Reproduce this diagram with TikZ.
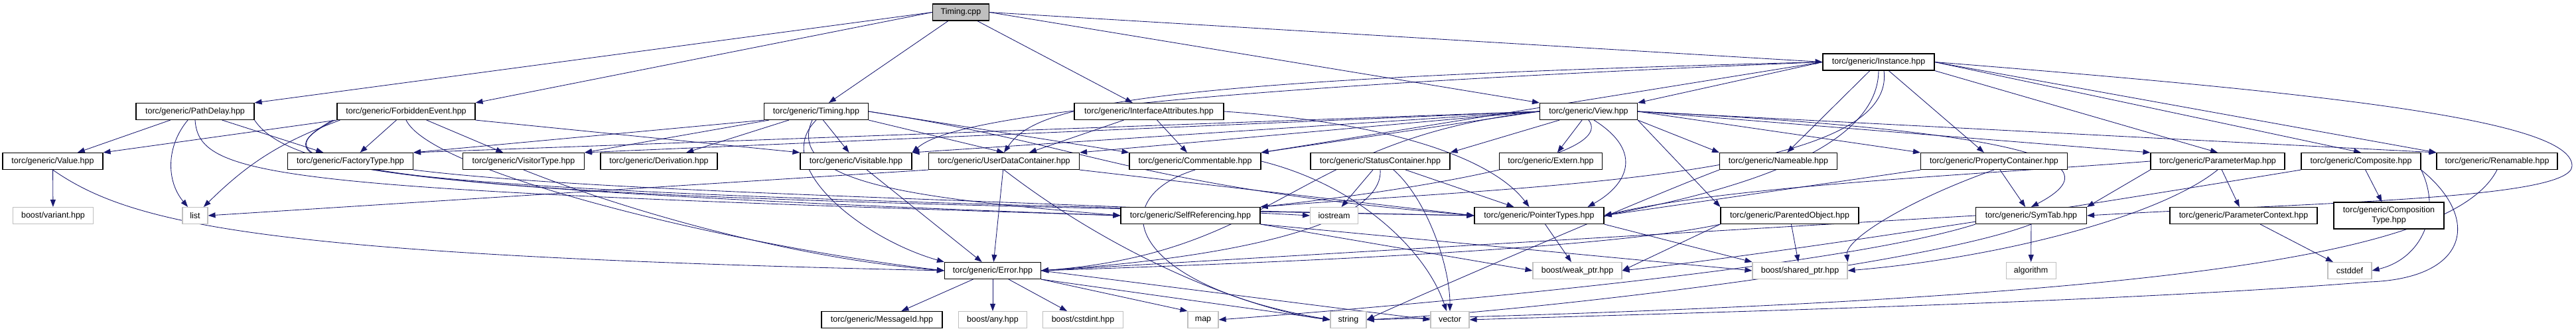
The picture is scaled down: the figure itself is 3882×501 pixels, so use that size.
\documentclass[tikz,border=0pt]{standalone}
\usepackage{fontspec}
\setmainfont{Liberation Sans}
\usetikzlibrary{arrows.meta,backgrounds}
\definecolor{edgec}{HTML}{191970}
\definecolor{sysc}{HTML}{BFBFBF}
\begin{document}
\begin{tikzpicture}[x=1pt,y=-1pt,
  every node/.style={font=\fontsize{12.5}{14}\selectfont},
  hdr/.style={draw=black,line width=1.1pt,fill=white,minimum height=25pt,inner xsep=3pt,inner ysep=0pt},
  sys/.style={draw=sysc,line width=1.1pt,fill=white,minimum height=25pt,inner xsep=3pt,inner ysep=0pt},
  e/.style={draw=edgec,line width=0.85pt,-{Triangle[length=11pt,width=8pt]}}]
\useasboundingbox (0,0) rectangle (3882,501);
% rank 0
\node[hdr,fill=sysc,minimum width=85pt] (tcpp) at (1448,18.5) {Timing.cpp};
\node[hdr,minimum width=168pt] (inst) at (2831,93.5) {torc/generic/Instance.hpp};
% rank 1
\node[hdr,minimum width=178pt] (pd) at (294,168) {torc/generic/PathDelay.hpp};
\node[hdr,minimum width=208pt] (fe) at (612,168) {torc/generic/ForbiddenEvent.hpp};
\node[hdr,minimum width=157pt] (th) at (1230,168) {torc/generic/Timing.hpp};
\node[hdr,minimum width=225pt] (ia) at (1731.5,168) {torc/generic/InterfaceAttributes.hpp};
\node[hdr,minimum width=147pt] (view) at (2394,168) {torc/generic/View.hpp};
% rank 2
\node[hdr,minimum width=151pt] (val) at (79.5,243) {torc/generic/Value.hpp};
\node[hdr,minimum width=189pt] (ft) at (528,243) {torc/generic/FactoryType.hpp};
\node[hdr,minimum width=183pt] (vt) at (789,243) {torc/generic/VisitorType.hpp};
\node[hdr,minimum width=176pt] (der) at (993,243) {torc/generic/Derivation.hpp};
\node[hdr,minimum width=168pt] (vis) at (1290,243) {torc/generic/Visitable.hpp};
\node[hdr,minimum width=227pt] (udc) at (1513,243) {torc/generic/UserDataContainer.hpp};
\node[hdr,minimum width=198pt] (com) at (1801,243) {torc/generic/Commentable.hpp};
\node[hdr,minimum width=210pt] (sc) at (2080,243) {torc/generic/StatusContainer.hpp};
\node[hdr,minimum width=155pt] (ext) at (2337,243) {torc/generic/Extern.hpp};
\node[hdr,minimum width=177pt] (nm) at (2680,243) {torc/generic/Nameable.hpp};
\node[hdr,minimum width=221pt] (pc) at (3005,243) {torc/generic/PropertyContainer.hpp};
\node[hdr,minimum width=202pt] (pm) at (3342,243) {torc/generic/ParameterMap.hpp};
\node[hdr,minimum width=180pt] (cmp) at (3558,243) {torc/generic/Composite.hpp};
\node[hdr,minimum width=182pt] (ren) at (3763,243) {torc/generic/Renamable.hpp};
% rank 3
\node[sys,minimum width=121pt] (var) at (80,325) {boost/variant.hpp};
\node[sys,minimum width=38pt] (list) at (294,325) {list};
\node[hdr,minimum width=210pt] (sr) at (1794,325) {torc/generic/SelfReferencing.hpp};
\node[sys,minimum width=72pt] (ios) at (2010.5,325) {iostream};
\node[hdr,minimum width=195pt] (ptr) at (2319.5,325) {torc/generic/PointerTypes.hpp};
\node[hdr,minimum width=208pt] (po) at (2697,325) {torc/generic/ParentedObject.hpp};
\node[hdr,minimum width=167pt] (st) at (3061,325) {torc/generic/SymTab.hpp};
\node[hdr,minimum width=222pt] (pctx) at (3381,325) {torc/generic/ParameterContext.hpp};
\node[hdr,minimum width=166pt,minimum height=40pt,align=center,font=\fontsize{12.5}{15}\selectfont] (ctype) at (3600,325) {torc/generic/Composition\\Type.hpp};
% rank 4
\node[hdr,minimum width=145pt] (err) at (1496,408) {torc/generic/Error.hpp};
\node[sys,minimum width=134pt] (weak) at (2377,408) {boost/weak\_ptr.hpp};
\node[sys,minimum width=143pt] (shared) at (2712.5,408) {boost/shared\_ptr.hpp};
\node[sys,minimum width=75pt] (alg) at (3060.6,408) {algorithm};
\node[sys,minimum width=66pt] (cstddef) at (3541,408) {cstddef};
% rank 5
\node[hdr,minimum width=182pt] (msg) at (1329,482) {torc/generic/MessageId.hpp};
\node[sys,minimum width=103pt] (any) at (1496,482) {boost/any.hpp};
\node[sys,minimum width=121pt] (cstdint) at (1632,482) {boost/cstdint.hpp};
\node[sys,minimum width=46pt] (map) at (1813,482) {map};
\node[sys,minimum width=54pt] (string) at (2032,482) {string};
\node[sys,minimum width=58pt] (vector) at (2185,482) {vector};

\begin{pgfonlayer}{background}
% Timing.cpp
\draw[e] (tcpp.west) -- (pd.north east);
\draw[e] (tcpp.west) -- (fe.north east);
\draw[e] (tcpp) -- (th);
\draw[e] (tcpp) -- (ia);
\draw[e] (tcpp.east) -- (view.north west);
\draw[e] (tcpp.east) -- (inst.west);
% PathDelay
\draw[e] (pd) -- (val);
\draw[e] (pd) -- (ft);
\draw[e] (pd) to[bend right=40] (list);
\draw[e] (pd.south) .. controls (300,270) and (420,285) .. (sr.west);
\draw[e] (pd.south east) .. controls (450,280) and (800,300) .. (ptr.west);
% ForbiddenEvent
\draw[e] (fe.south west) -- (val.north east);
\draw[e] ([xshift=5pt]fe.south west) to[bend right=12] (list);
\draw[e] (fe) -- (ft);
\draw[e] (fe) -- (vt);
\draw[e] (fe.south east) -- (vis.north west);
\draw[e] ([xshift=-3pt]fe.south west) .. controls (390,240) and (420,280) .. (sr.west);
\draw[e] ([xshift=-6pt]fe.south west) .. controls (380,250) and (420,290) .. (ptr.west);
\draw[e] (fe.south) .. controls (650,260) and (1100,370) .. (err.west);
\draw[e] (ft.south east) .. controls (900,290) and (1500,300) .. (ios.west);
% Timing.hpp
\draw[e] (th.south west) -- (ft.north east);
\draw[e] ([xshift=8pt]th.south west) -- (vt.north east);
\draw[e] (th) -- (der);
\draw[e] (th) -- (vis);
\draw[e] (th.south east) -- (udc.north);
\draw[e] (th.east) -- (com.north west);
\draw[e] (th.south) .. controls (1160,250) and (1300,360) .. (err.north west);
\draw[e] ([xshift=-6pt]th.south) .. controls (1180,280) and (1400,300) .. (sr.west);
\draw[e] (th.east) .. controls (1650,220) and (1700,280) .. (ptr.west);
% InterfaceAttributes
\draw[e] (ia) -- (udc);
\draw[e] (ia) -- (com);
\draw[e] (ia.east) .. controls (2100,185) and (2250,240) .. ([xshift=-15pt]ptr.north);
% View
\draw[e] (view.west) -- (ft.north east);
\draw[e] (view.west) -- (vt.north east);
\draw[e] (view.west) -- (vis.north east);
\draw[e] (view.west) -- (udc.north east);
\draw[e] (view.west) -- (com.north east);
\draw[e] (view) -- (sc.north east);
\draw[e] (view) -- (ext);
\draw[e] (view.south east) -- (nm.north west);
\draw[e] (view.south east) -- (po.north west);
\draw[e] (view.east) -- (pc.north west);
\draw[e] (view.east) -- (pm.north west);
\draw[e] (view.east) -- (ren.north west);
\draw[e] (view.south) .. controls (2440,240) and (2100,290) .. (sr.north east);
\draw[e] ([xshift=8pt]view.south) .. controls (2480,230) and (2450,280) .. ([xshift=-25pt]ptr.north east);
\draw[e] (view.west) .. controls (1950,210) and (1930,380) .. (err.east);
\draw[e] (view.east) .. controls (3100,200) and (3180,250) .. (st.north);
% Instance
\draw[e] (inst.west) -- (view.north east);
\draw[e] (inst) -- (nm);
\draw[e] (inst) -- (pc);
\draw[e] (inst.south east) -- (pm.north);
\draw[e] (inst.east) -- (cmp.north);
\draw[e] (inst.east) -- (ren.north west);
\draw[e] (inst.west) -- (com.north east);
\draw[e] (inst.west) .. controls (1700,120) and (1560,160) .. (udc.north);
\draw[e] (inst.west) .. controls (1600,140) and (1420,190) .. (vis.north east);
\draw[e] (inst.south) .. controls (2830,230) and (2600,290) .. (ptr.east);
\draw[e] ([xshift=8pt]inst.south) .. controls (2860,270) and (2300,280) .. (sr.north east);
\draw[e] (inst.east) .. controls (3500,140) and (3876,180) .. (3876,250) .. controls (3876,300) and (3500,305) .. (st.east);
% StatusContainer
\draw[e] (sc) -- (ios);
\draw[e] (sc) -- (ptr);
\draw[e] (sc.south) .. controls (2085,330) and (1900,385) .. (err.east);
\draw[e] ([xshift=20pt]sc.south) .. controls (2150,300) and (2185,400) .. (vector.north);
% Visitable, UserDataContainer, Commentable
\draw[e] (vis) -- (err);
\draw[e] (udc) -- (err);
\draw[e] (udc.south west) -- (list.east);
\draw[e] (udc.south) .. controls (1700,400) and (1900,470) .. (string.west);
\draw[e] (udc.south east) -- (ptr.west);
\draw[e] (com.south) .. controls (1660,300) and (1700,430) .. (string.west);
\draw[e] (com.east) .. controls (2050,280) and (2150,380) .. ([xshift=-5pt]vector.north);
% Value, VisitorType
\draw[e] (val) -- (var);
\draw[e] (val.south) .. controls (200,340) and (400,385) .. (err.west);
\draw[e] (vt.south) .. controls (950,320) and (1200,390) .. (err.west);
% SelfReferencing, PointerTypes
\draw[e] (sr.south east) -- (weak.west);
\draw[e] (sr.south east) -- (shared.west);
\draw[e] (ptr) -- (weak);
\draw[e] (ptr.south east) -- (shared.north west);
% Error
\draw[e] (err) -- (msg);
\draw[e] (err) -- (any);
\draw[e] (err) -- (cstdint);
\draw[e] (err.south east) -- (map.north west);
\draw[e] (err.south east) -- (string.west);
\draw[e] (err.east) -- (vector.west);
% Nameable, PropertyContainer, ParentedObject
\draw[e] (nm.south west) .. controls (2500,290) and (2150,440) .. (string.east);
\draw[e] (pc) -- (st);
\draw[e] (pc.south) .. controls (2880,300) and (2780,360) .. (shared.north east);
\draw[e] (pc.south west) -- (ptr.east);
\draw[e] (po) -- (shared);
\draw[e] (po.south west) -- (weak.east);
\draw[e] (po.south west) .. controls (2400,380) and (1800,400) .. (err.east);
% SymTab
\draw[e] (st) -- (alg);
\draw[e] (st.south west) .. controls (2750,410) and (2000,470) .. (map.east);
\draw[e] (st.south) .. controls (2900,400) and (2300,470) .. (string.east);
\draw[e] (st.west) -- (err.east);
% ParameterMap, Composite, Renamable, ParameterContext
\draw[e] (pm) -- (pctx);
\draw[e] (pm.south west) -- (st.north east);
\draw[e] (pm.west) .. controls (3000,262) and (2600,280) .. (ptr.east);
\draw[e] (pm.south) .. controls (3250,330) and (3000,390) .. (shared.east);
\draw[e] (cmp) -- (ctype);
\draw[e] (cmp.south east) .. controls (3680,320) and (3650,390) .. (cstddef.east);
\draw[e] (cmp.south east) .. controls (3740,330) and (3720,420) .. (3570,425) .. controls (3200,455) and (2600,470) .. (vector.east);
\draw[e] (cmp.south west) .. controls (3200,300) and (2700,380) .. (weak.east);
\draw[e] (ren.south) .. controls (3700,380) and (3300,450) .. (string.east);
\draw[e] (pctx) -- (cstddef);
\end{pgfonlayer}
\end{tikzpicture}
\end{document}
